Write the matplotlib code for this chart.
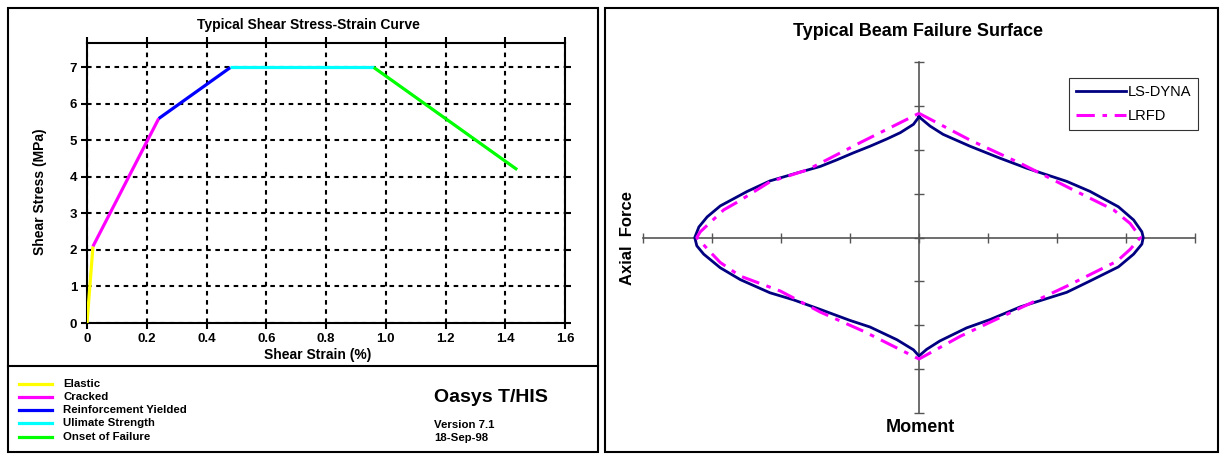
import numpy as np
import matplotlib.pyplot as plt
from matplotlib.patches import Rectangle
from matplotlib.lines import Line2D

plt.rcParams['font.family'] = ['Liberation Sans', 'DejaVu Sans']

W, H = 1222, 455

# ---- left chart: shear stress-strain, segment by segment ----
seg_names = ['Elastic', 'Cracked', 'Reinforcement Yielded', 'Ulimate Strength', 'Onset of Failure']
seg_colors = ['#ffff00', '#ff00ff', '#0000ff', '#00ffff', '#00ff00']
seg_strain = [[0.0, 0.02], [0.02, 0.24], [0.24, 0.48], [0.48, 0.96], [0.96, 1.44]]
seg_stress = [[0.0, 2.1], [2.1, 5.6], [5.6, 7.0], [7.0, 7.0], [7.0, 4.2]]
x_ticks = [0.0, 0.2, 0.4, 0.6, 0.8, 1.0, 1.2, 1.4, 1.6]
x_ticklabels = ['0', '0.2', '0.4', '0.6', '0.8', '1.0', '1.2', '1.4', '1.6']
y_ticks = [0, 1, 2, 3, 4, 5, 6, 7]

# ---- right chart: beam failure surface (moment vs axial force, closed loops) ----
dyna_m = [0.0, 0.16, 0.35, 0.74, 1.17, 1.56, 2.14, 2.48, 2.89, 3.11, 3.23, 3.25,
          3.23, 3.11, 2.89, 2.48, 2.14, 1.47, 1.03, 0.69, 0.30, 0.11, 0.0,
          -0.08, -0.32, -0.71, -1.00, -1.43, -1.82, -2.16, -2.59, -2.88, -3.12, -3.22, -3.25,
          -3.19, -3.07, -2.88, -2.49, -2.16, -1.77, -1.43, -1.19, -0.95, -0.71, -0.46, -0.27, -0.08, 0.0]
dyna_f = [2.75, 2.54, 2.35, 2.08, 1.81, 1.58, 1.28, 1.05, 0.70, 0.40, 0.13, 0.0,
          -0.15, -0.38, -0.67, -0.99, -1.25, -1.58, -1.87, -2.06, -2.36, -2.55, -2.70,
          -2.56, -2.33, -2.04, -1.89, -1.64, -1.42, -1.26, -0.96, -0.69, -0.38, -0.19, 0.0,
          0.24, 0.47, 0.72, 1.05, 1.29, 1.47, 1.62, 1.77, 1.93, 2.08, 2.25, 2.39, 2.58, 2.75]
lrfd_m = [0.0, 0.74, 1.47, 2.19, 2.82, 3.06, 3.21, 3.06, 2.87, 2.14, 0.60, 0.0,
          -0.80, -1.43, -2.01, -2.59, -2.88, -3.02, -3.22, -3.17, -2.83, -2.64, -2.16, -1.62, -0.83, 0.0]
lrfd_f = [2.83, 2.22, 1.69, 1.12, 0.63, 0.32, 0.0, -0.27, -0.54, -1.11, -2.25, -2.77,
          -2.14, -1.70, -1.22, -0.88, -0.57, -0.34, 0.0, 0.13, 0.63, 0.80, 1.27, 1.54, 2.18, 2.83]
grid_ticks = [-4, -3, -2, -1, 0, 1, 2, 3, 4]


def fx(px):
    return px / W


def fy(py):
    return 1 - py / H


fig = plt.figure(figsize=(W / 100, H / 100), dpi=100)

# panel frames
fig.add_artist(Rectangle((fx(8), fy(452)), fx(590), 444 / H, transform=fig.transFigure,
                         fill=False, ec='black', lw=1.5))
fig.add_artist(Line2D([fx(8), fx(598)], [fy(366), fy(366)], transform=fig.transFigure, color='black', lw=1.5))
fig.add_artist(Rectangle((fx(605), fy(452)), fx(613), 444 / H, transform=fig.transFigure,
                         fill=False, ec='black', lw=1.5))

# ---- left axes ----
ax = fig.add_axes([fx(87), fy(323), fx(478), 280 / H])
for xs, ys, c in zip(seg_strain, seg_stress, seg_colors):
    ax.plot(xs, ys, color=c, lw=2.3, solid_capstyle='butt', zorder=3)
ax.set_xlim(0, 1.6)
ax.set_ylim(0, 7.67)
ax.set_xticks(x_ticks)
ax.set_xticklabels(x_ticklabels)
ax.set_yticks(y_ticks)
ax.grid(True, color='black', ls=(0, (2.2, 2.2)), lw=1.5)
ax.tick_params(direction='out', length=4, width=1.5, top=True, right=True, pad=3,
               labelsize=9.5)
for lab in ax.get_xticklabels() + ax.get_yticklabels():
    lab.set_fontweight('bold')
for s in ax.spines.values():
    s.set_linewidth(1.5)
fig.text(fx(318), fy(355), 'Shear Strain (%)', ha='center', va='center', fontsize=10, fontweight='bold')
fig.text(fx(40), fy(192), 'Shear Stress (MPa)', ha='center', va='center', rotation=90,
         fontsize=10, fontweight='bold')
fig.text(fx(308), fy(25), 'Typical Shear Stress-Strain Curve', ha='center', va='center',
         fontsize=10, fontweight='bold')

# bottom legend block
row_y = [384, 397, 410, 423, 437]
for name, c, ry in zip(seg_names, seg_colors, row_y):
    fig.add_artist(Line2D([fx(19), fx(52)], [fy(ry), fy(ry)], transform=fig.transFigure, color=c, lw=2.3))
    fig.text(fx(63), fy(ry), name, ha='left', va='center', fontsize=8.2, fontweight='bold')
fig.text(fx(434), fy(397), 'Oasys T/HIS', ha='left', va='center', fontsize=14, fontweight='bold')
fig.text(fx(434), fy(425), 'Version 7.1', ha='left', va='center', fontsize=8.2, fontweight='bold')
fig.text(fx(434), fy(438), '18-Sep-98', ha='left', va='center', fontsize=8.2, fontweight='bold')

# ---- right axes ----
ax2 = fig.add_axes([fx(643), fy(413), fx(552), 351 / H])
ax2.plot(dyna_m, dyna_f, color='#000080', lw=2.0, label='LS-DYNA', zorder=3)
ax2.plot(lrfd_m, lrfd_f, color='#ff00ff', lw=2.2, dashes=(6, 2.5, 1.5, 2.5), label='LRFD', zorder=3)
ax2.set_xlim(-4, 4)
ax2.set_ylim(-4, 4)
ax2.set_xticks(grid_ticks)
ax2.set_yticks(grid_ticks)
ax2.set_xticklabels([])
ax2.set_yticklabels([])
ax2.spines['left'].set_position('zero')
ax2.spines['bottom'].set_position('zero')
ax2.spines['right'].set_visible(False)
ax2.spines['top'].set_visible(False)
for s in ['left', 'bottom']:
    ax2.spines[s].set_color('#555555')
    ax2.spines[s].set_linewidth(1.2)
ax2.tick_params(direction='inout', length=7, width=1.0, color='#555555')
ax2.patch.set_visible(False)
leg = ax2.legend(loc='upper left', bbox_to_anchor=(0.772, 0.954), borderaxespad=0, fontsize=10.5,
                 frameon=True, fancybox=False, edgecolor='black', handlelength=3.4, handletextpad=0.1,
                 borderpad=0.5, labelspacing=0.65)
leg.get_frame().set_linewidth(0.8)
fig.text(fx(918), fy(31), 'Typical Beam Failure Surface', ha='center', va='center',
         fontsize=13, fontweight='bold')
fig.text(fx(920), fy(427), 'Moment', ha='center', va='center', fontsize=13, fontweight='bold')
fig.text(fx(627), fy(238), 'Axial  Force', ha='center', va='center', rotation=90,
         fontsize=12, fontweight='bold')

fig.savefig('out.png', dpi=100)
